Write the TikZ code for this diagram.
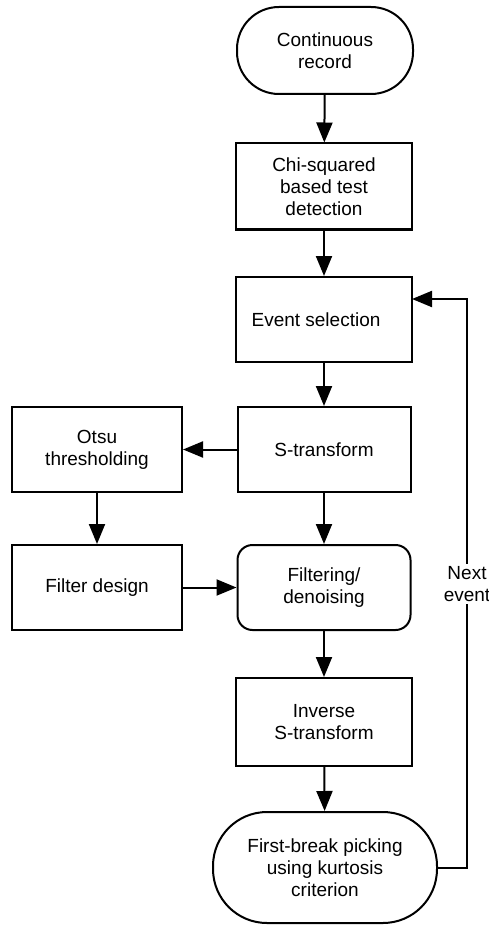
\documentclass[tikz,border=0pt]{standalone}
\usepackage{fontspec}
\setmainfont{Liberation Sans}
\usetikzlibrary{arrows.meta}
\begin{document}
\begin{tikzpicture}[x=1pt,y=-1pt,
  font=\fontsize{19}{22}\selectfont,
  boxbase/.style={draw, line width=2pt, align=center, inner sep=0pt},
  procbox/.style={boxbase, rectangle, minimum width=176pt, minimum height=86pt},
  sidebox/.style={boxbase, rectangle, minimum width=170pt, minimum height=85pt},
  arr/.style={line width=2pt, -{Triangle[length=20pt,width=16pt]}}]
\useasboundingbox (0,0) rectangle (489,925);
\node[boxbase, minimum width=176pt, minimum height=87pt, rounded corners=42pt] (cont) at (325,50.5) {Continuous\hspace{8pt}\\record\hspace{6pt}};
\node[procbox] (chi) at (324,186.5) {Chi-squared\\based test\\detection};
\node[procbox, minimum height=85pt] (ev) at (324,319.5) {Event selection\hspace{16pt}};
\node[procbox, minimum width=173pt, minimum height=85pt] (st) at (324,449.5) {S-transform};
\node[sidebox] (otsu) at (97,449.5) {Otsu\\thresholding};
\node[sidebox] (fd) at (97,587.5) {Filter design};
\node[boxbase, minimum width=173pt, minimum height=85pt, rounded corners=15pt] (filt) at (324,587.5) {Filtering/\\denoising};
\node[procbox, minimum height=88pt] (inv) at (324,722) {Inverse\\S-transform};
\node[boxbase, minimum width=224pt, minimum height=111pt, rounded corners=54pt] (fb) at (325,867.5) {First-break picking\hspace{14pt}\\using kurtosis\hspace{14pt}\\criterion\hspace{6pt}};
\coordinate (c1) at (467,868);
\coordinate (c2) at (467,299);
\coordinate (c3) at (412,299);
\draw[arr] (cont) -- (chi);
\draw[arr] (chi) -- (ev);
\draw[arr] (ev) -- (st);
\draw[arr] (st) -- (otsu);
\draw[arr] (otsu) -- (fd);
\draw[arr] (st) -- (filt);
\draw[arr] (fd) -- (filt);
\draw[arr] (filt) -- (inv);
\draw[arr] (inv) -- (fb);
\draw[arr] (fb.east |- c1) -- (c1) -- (c2) -- (c3);
\node[fill=white, align=center, inner sep=2pt] (nx) at (467,584) {Next\\event};
\end{tikzpicture}
\end{document}
